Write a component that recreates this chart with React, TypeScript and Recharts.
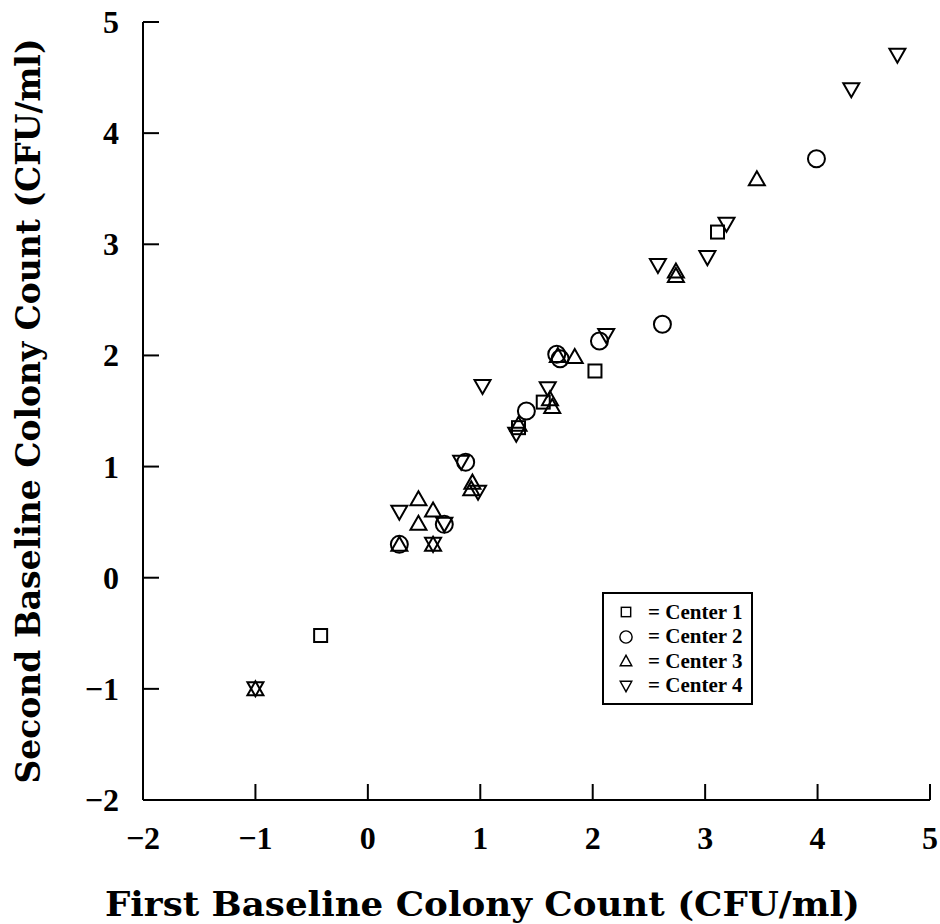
import React from "react";
import { ScatterChart, Scatter, XAxis, YAxis, Legend } from "recharts";

// [first baseline, second baseline] log CFU/ml
const center1: [number, number][] = [
  [-0.42, -0.52], [1.34, 1.35], [1.56, 1.58], [2.02, 1.86], [3.11, 3.11],
];
const center2: [number, number][] = [
  [0.28, 0.3], [0.68, 0.48], [0.87, 1.04], [1.41, 1.5], [1.68, 2.01],
  [1.71, 1.97], [2.06, 2.13], [2.62, 2.28], [3.99, 3.77],
];
const center3: [number, number][] = [
  [-1, -1], [0.28, 0.3], [0.45, 0.71], [0.58, 0.61], [0.45, 0.49],
  [0.58, 0.3], [0.93, 0.86], [0.92, 0.8], [1.34, 1.38], [1.62, 1.61],
  [1.64, 1.54], [1.69, 2.0], [1.84, 1.99], [2.74, 2.76], [2.74, 2.72],
  [3.46, 3.59],
];
const center4: [number, number][] = [
  [-1, -1], [0.58, 0.3], [0.28, 0.59], [0.68, 0.48], [0.83, 1.04],
  [0.98, 0.77], [1.02, 1.72], [1.32, 1.29], [1.6, 1.7], [2.12, 2.18],
  [2.58, 2.81], [3.02, 2.88], [3.19, 3.18], [4.3, 4.39], [4.71, 4.7],
];
const seriesNames = ["Center 1", "Center 2", "Center 3", "Center 4"];
const axisTicks = [-2, -1, 0, 1, 2, 3, 4, 5];

const FONT = "'Liberation Serif', 'Times New Roman', serif";
const TITLE_FONT = "'DejaVu Serif', 'Liberation Serif', serif";
const toPts = (arr: [number, number][]) => arr.map(([x, y]) => ({ x, y }));
const fmt = (v: number) => (v < 0 ? `\u2212${Math.abs(v)}` : `${v}`);

type Kind = "square" | "circle" | "up" | "down";
const kinds: Kind[] = ["square", "circle", "up", "down"];

function Marker({ kind, cx, cy, s = 1 }: { kind: Kind; cx: number; cy: number; s?: number }) {
  const common = { fill: "none", stroke: "#000", strokeWidth: 2 * s };
  if (kind === "square") {
    const h = 6.5 * s;
    return <rect x={cx - h} y={cy - h} width={2 * h} height={2 * h} {...common} />;
  }
  if (kind === "circle") return <circle cx={cx} cy={cy} r={8.5 * s} {...common} />;
  const w = 8 * s;
  const hh = 6.5 * s;
  if (kind === "up")
    return <polygon points={`${cx - w},${cy + hh} ${cx + w},${cy + hh} ${cx},${cy - hh - 1}`} {...common} />;
  return <polygon points={`${cx - w},${cy - hh} ${cx + w},${cy - hh} ${cx},${cy + hh + 1}`} {...common} />;
}

const makeShape = (kind: Kind) => (props: any) => <Marker kind={kind} cx={props.cx} cy={props.cy} />;

function XTick(props: any) {
  const { x, y, payload } = props;
  return (
    <g>
      <line x1={x} y1={y} x2={x} y2={y - 16} stroke="#000" strokeWidth={2} />
      <text x={x} y={y + 49} textAnchor="middle" fontFamily={FONT} fontWeight="bold" fontSize={32} fill="#000">
        {fmt(payload.value)}
      </text>
    </g>
  );
}

function YTick(props: any) {
  const { x, y, payload } = props;
  return (
    <g>
      <line x1={x} y1={y} x2={x + 16} y2={y} stroke="#000" strokeWidth={2} />
      <text x={x - 24} y={y + 11} textAnchor="end" fontFamily={FONT} fontWeight="bold" fontSize={32} fill="#000">
        {fmt(payload.value)}
      </text>
    </g>
  );
}

function LegendBox(props: any) {
  const payload = props.payload ?? [];
  return (
    <div style={{ border: "2px solid #000", width: 151, height: 113, boxSizing: "border-box", paddingTop: 6, background: "#fff" }}>
      {payload.map((entry: any, i: number) => (
        <div key={i} style={{ display: "flex", alignItems: "center", height: 24.5 }}>
          <svg width={34} height={22} style={{ marginLeft: 4 }}>
            <Marker kind={kinds[seriesNames.indexOf(entry.value)] ?? "square"} cx={18} cy={11} s={0.72} />
          </svg>
          <span style={{ fontFamily: FONT, fontWeight: "bold", fontSize: 21, color: "#000", marginLeft: 6, whiteSpace: "nowrap" }}>
            = {entry.value}
          </span>
        </div>
      ))}
    </div>
  );
}

export default function App() {
  const series = [center1, center2, center3, center4];
  return (
    <div style={{ width: 940, height: 924, background: "#fff" }}>
      <style>{"body{margin:0;background:#fff}"}</style>
      <ScatterChart width={940} height={924} margin={{ top: 22, right: 10, left: 43, bottom: 64 }}>
        <XAxis
          type="number"
          dataKey="x"
          domain={[-2, 5]}
          ticks={axisTicks}
          allowDataOverflow
          height={60}
          tickSize={0}
          tickMargin={0}
          tickLine={false}
          axisLine={{ stroke: "#000", strokeWidth: 2 }}
          tick={<XTick />}
          label={{
            content: (p: any) => {
              const vb = p.viewBox ?? { x: 143, width: 787, y: 800 };
              return (
                <text x={vb.x + vb.width / 2 - 54} y={916} textAnchor="middle" fontFamily={TITLE_FONT} fontWeight="bold" fontSize={34} textLength={755} lengthAdjust="spacingAndGlyphs" fill="#000">
                  First Baseline Colony Count (CFU/ml)
                </text>
              );
            },
          }}
        />
        <YAxis
          type="number"
          dataKey="y"
          domain={[-2, 5]}
          ticks={axisTicks}
          allowDataOverflow
          width={100}
          tickSize={0}
          tickMargin={0}
          tickLine={false}
          axisLine={{ stroke: "#000", strokeWidth: 2 }}
          tick={<YTick />}
          label={{
            content: (p: any) => {
              const vb = p.viewBox ?? { y: 22, height: 778 };
              const cy = vb.y + vb.height / 2;
              return (
                <text x={28} y={cy} transform={`rotate(-90 28 ${cy})`} textAnchor="middle" dominantBaseline="central" fontFamily={TITLE_FONT} fontWeight="bold" fontSize={34} textLength={745} lengthAdjust="spacingAndGlyphs" fill="#000">
                  Second Baseline Colony Count (CFU/ml)
                </text>
              );
            },
          }}
        />
        <Legend
          layout="vertical"
          align="center"
          verticalAlign="middle"
          wrapperStyle={{ left: 602, top: 592, width: 151, height: 113 }}
          content={<LegendBox />}
        />
        {series.map((s, i) => (
          <Scatter
            key={seriesNames[i]}
            name={seriesNames[i]}
            data={toPts(s)}
            shape={makeShape(kinds[i])}
            isAnimationActive={false}
          />
        ))}
      </ScatterChart>
    </div>
  );
}
